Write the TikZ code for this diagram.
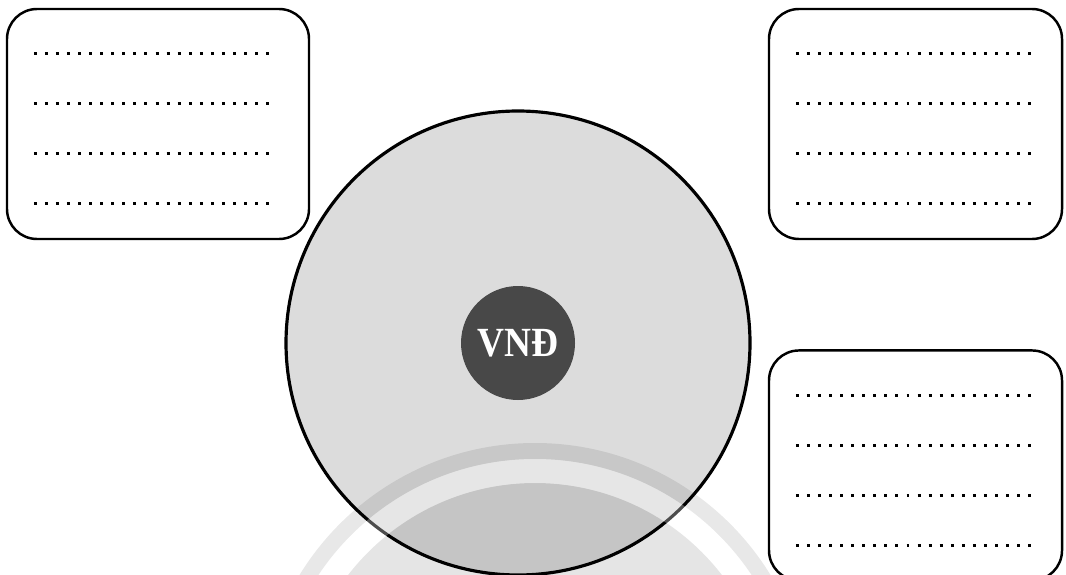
\documentclass[tikz,border=0pt]{standalone}
\usepackage{fontspec}
\newfontfamily\vndfont{Liberation Serif}
\usetikzlibrary{positioning, calc}

\definecolor{coin}{HTML}{DCDCDC}
\definecolor{coindark}{HTML}{484848}

\begin{document}
\begin{tikzpicture}[box/.style={draw,fill=white,line width=0.7pt,rounded corners=0.3cm,
minimum height=2.3cm,inner sep=0pt},
dotline/.style={line width=0.85pt,dash pattern=on 0.85pt off 2.3pt}]
\useasboundingbox (0,0) rectangle (10.66,5.74);

%coin
\node[circle,draw,line width=0.9pt,fill=coin,minimum size=4.64cm,inner sep=0pt] (coin) at (5.18,2.31) {};

%watermark
\begin{scope}
\clip (0,0) rectangle (10.66,5.74);
\fill[black,opacity=0.09,even odd rule] (5.35,-1.45) circle (2.76) circle (2.60);
\fill[black,opacity=0.1] (5.35,-1.45) circle (2.36);
\fill[white,opacity=0.3,even odd rule] (5.35,-1.45) circle (2.60) circle (2.36);
\end{scope}

\node[circle,fill=coindark,minimum size=1.14cm,inner sep=0pt,text=white,
font={\vndfont\bfseries\fontsize{11.8pt}{12pt}\selectfont}] (vnd) at (coin) {\scalebox{0.9}[1]{VNĐ}};

%boxes
\node[box,minimum width=3.02cm] (lefttop) at (1.58,4.50) {};
\node[box,minimum width=2.93cm] (righttop) at (9.155,4.50) {};
\node[box,minimum width=2.93cm,below=1.09cm of righttop] (rightbottom) {};

\foreach \b in {lefttop,righttop,rightbottom}
\foreach \i in {0,...,3}
{\draw[dotline] ($(\b.north west)+(0.28,-0.46-0.5*\i)$) -- ++(2.4,0);}
\end{tikzpicture}
\end{document}
